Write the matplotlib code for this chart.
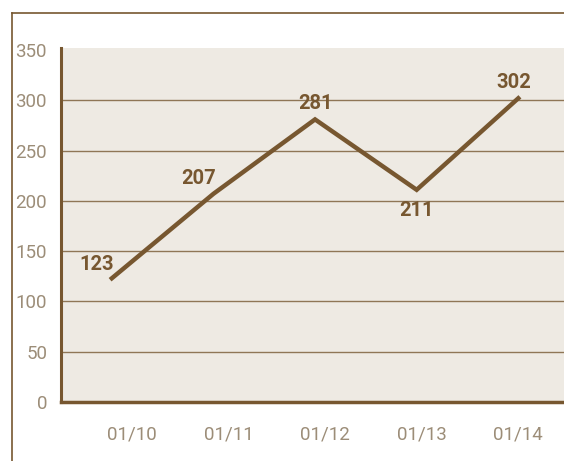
import numpy as np
import matplotlib.pyplot as plt
from matplotlib.lines import Line2D

dates = ['01/10', '01/11', '01/12', '01/13', '01/14']
values = [123, 207, 281, 211, 302]
y_ticks = [0, 50, 100, 150, 200, 250, 300, 350]

# label offsets in pixels (dx, dy) relative to each point
label_offsets = [(-15, 14), (-15, 15), (0, 16), (0, -21), (-5, 16)]

brown = '#775730'
grid_c = '#8f7656'
tick_c = '#9c8d78'
bg = '#eeeae3'

plt.rcParams['font.family'] = ['Roboto', 'DejaVu Sans']

fig = plt.figure(figsize=(5.64, 4.61), dpi=100)
ax = fig.add_axes([61/564, 59/461, 1 - 61/564, 354/461])
ax.set_facecolor(bg)

x = np.arange(len(values))
ax.plot(x, values, color=brown, linewidth=3.2, solid_joinstyle='miter', zorder=3)

for xi, v, (dx, dy) in zip(x, values, label_offsets):
    ax.annotate(str(v), (xi, v), xytext=(dx, dy), textcoords='offset pixels',
                ha='center', va='center', fontsize=14.5, fontweight='bold',
                color=brown, zorder=4)

ax.set_ylim(0, 352)
ax.set_xlim(-0.5, 4.45)
ax.set_yticks(y_ticks)
ax.set_yticklabels([str(t) for t in y_ticks])
ax.set_xticks(np.linspace(0.2, 4, len(dates)))
ax.set_xticklabels(dates)
ax.tick_params(axis='both', length=0, labelsize=13.5, colors=tick_c)
ax.tick_params(axis='y', pad=10)
ax.tick_params(axis='x', pad=17)

for t in y_ticks[1:-1]:
    ax.axhline(t, color=grid_c, linewidth=1, zorder=1)

for s in ['top', 'right']:
    ax.spines[s].set_visible(False)
ax.spines['left'].set_color(brown)
ax.spines['left'].set_linewidth(2.2)
ax.spines['bottom'].set_color(brown)
ax.spines['bottom'].set_linewidth(2.5)

# outer frame
fig.add_artist(Line2D([12/564, 1], [1 - 13/461, 1 - 13/461], color=brown, linewidth=1.2))
fig.add_artist(Line2D([12/564, 12/564], [0, 1 - 13/461], color=brown, linewidth=1.2))

fig.savefig('out.png', dpi=100)
